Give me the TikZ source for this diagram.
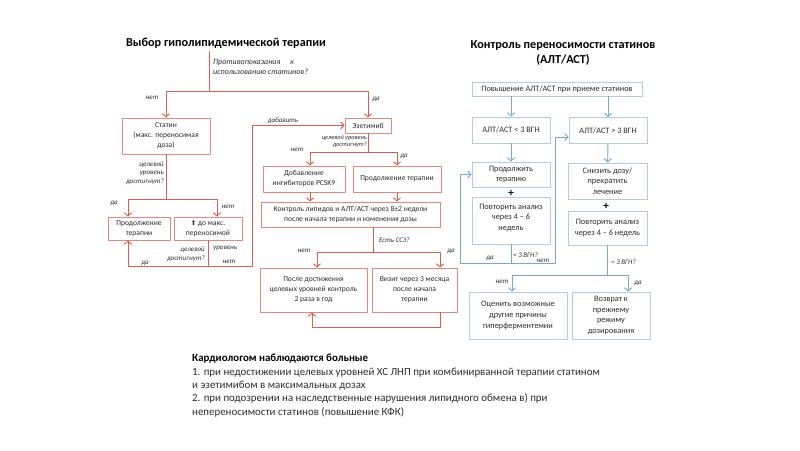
\documentclass[tikz,border=0pt]{standalone}
\usepackage{fontspec}
\setmainfont{Carlito}
\newfontfamily\symfont{DejaVu Sans}
\usetikzlibrary{arrows.meta}
\definecolor{lnred}{RGB}{216,92,80}
\definecolor{bxred}{RGB}{228,136,126}
\definecolor{lnblue}{RGB}{120,165,212}
\definecolor{bxblue}{RGB}{178,202,228}
\definecolor{txt}{RGB}{45,45,45}

\begin{document}
\begin{tikzpicture}[x=1pt,y=-1pt,line cap=round,line join=round,
  >={Straight Barb[length=3.2pt,width=7pt]},
  rbox/.style={draw=bxred,line width=0.9pt,align=center,inner sep=1pt,
    font=\fontsize{7.6}{10}\selectfont,text=txt},
  bbox/.style={draw=bxblue,line width=0.9pt,align=center,inner sep=1pt,
    font=\fontsize{8.3}{10.6}\selectfont,text=txt},
  rline/.style={draw=lnred,line width=0.95pt},
  bline/.style={draw=lnblue,line width=0.95pt},
  lbl/.style={font=\fontsize{7}{8.5}\selectfont\itshape,text=txt,inner sep=0pt},
  ttl/.style={font=\fontsize{12.2}{15}\selectfont\bfseries,align=center,text=black}]
  \useasboundingbox (0,0) rectangle (800,450);
  \fill[white] (0,0) rectangle (800,450);

  % left: choice of therapy
  \node[ttl] (titleL) at (226,43) {Выбор гиполипидемической терапии};
  \node[lbl,font=\fontsize{8}{9.5}\selectfont\itshape,align=left,anchor=west] (q) at (213,67)
    {Противопоказания\quad\ к\\использованию статинов?};
  \coordinate (j0) at (209,91);
  \node[rbox,minimum width=88pt,minimum height=36pt] (statin) at (166,136)
    {Статин\\(макс. переносимая\\доза)};
  \node[rbox,minimum width=46pt,minimum height=15pt] (eze) at (368,125.5) {Эзетимиб};
  \draw[rline] (titleL.south -| j0) -- (j0);
  \draw[rline,->] (j0) -| (statin);
  \draw[rline,->] (j0) -| (eze);
  \node[lbl] (no0) at (152,98) {нет};
  \node[lbl] (yes0) at (376,99) {да};

  \node[rbox,minimum width=62pt,minimum height=23pt] (cont1) at (139,228.5)
    {Продолжение\\терапии};
  \node[rbox,minimum width=68pt,minimum height=23pt] (upmax) at (208,228.5)
    {{\symfont\fontsize{6.5}{8}\selectfont ⬆} до макс.\\переносимой};
  \coordinate (j1) at (166,199);
  \coordinate (j1l) at (128,199);
  \coordinate (j1r) at (217,199);
  \draw[rline] (statin) -- (j1);
  \draw[rline,->] (j1) -- (j1l) -- (j1l |- cont1.north);
  \draw[rline,->] (j1) -- (j1r) -- (j1r |- upmax.north);
  \node[lbl,align=right,anchor=east] (goal1) at (164,173) {целевой\\уровень\\достигнут?};
  \node[lbl] (yes1) at (114,203) {да};
  \node[lbl] (no1) at (228,207) {нет};

  \coordinate (j2) at (208,266);
  \coordinate (j2l) at (128,266);
  \coordinate (j2r) at (252,266);
  \coordinate (addc) at (252,125.5);
  \draw[rline] (upmax) -- (j2);
  \draw[rline,->] (j2) -- (j2l) -- (j2l |- cont1.south);
  \draw[rline,->] (j2) -- (j2r) -- (addc) -- (eze);
  \node[lbl,align=right,anchor=east] (goal2) at (205,254) {целевой\\достигнут?};
  \node[lbl,anchor=west] (lev2) at (213,248) {уровень};
  \node[lbl] (no2) at (229,262) {нет};
  \node[lbl] (yes2) at (145,263) {да};
  \node[lbl] (add) at (283,121) {добавить};

  \node[rbox,minimum width=82pt,minimum height=26pt] (pcsk) at (304,179)
    {Добавление\\ингибиторов PCSK9};
  \node[rbox,minimum width=88pt,minimum height=26pt] (cont2) at (397,179)
    {Продолжение терапии};
  \coordinate (j3) at (368,152);
  \coordinate (j3l) at (310,152);
  \coordinate (j3r) at (397,152);
  \draw[rline] (eze) -- (j3);
  \draw[rline,->] (j3) -- (j3l) -- (j3l |- pcsk.north);
  \draw[rline,->] (j3) -- (j3r) -- (cont2);
  \node[lbl,align=right,anchor=north east,font=\fontsize{6.3}{7.3}\selectfont\itshape] (goal3) at (367,135)
    {целевой уровень\\достигнут?};
  \node[lbl] (no3) at (297,150) {нет};
  \node[lbl] (yes3) at (404,156) {да};

  \node[rbox,minimum width=179pt,minimum height=25pt] (control) at (350.5,214.5)
    {Контроль липидов и АЛТ/АСТ через 8±2 недели\\после начала терапии и изменения дозы};
  \draw[rline,->] (pcsk.south -| j3l) -- (j3l |- control.north);
  \draw[rline,->] (cont2) -- (cont2 |- control.north);

  \node[rbox,minimum width=107pt,minimum height=44pt] (after) at (313.5,290)
    {После достижения\\целевых уровней контроль\\2 раза в год};
  \node[rbox,minimum width=85pt,minimum height=44pt] (visit) at (414.5,290)
    {Визит через 3 месяца\\после начала\\терапии};
  \coordinate (j4) at (373,252);
  \coordinate (j4l) at (317,252);
  \coordinate (j4r) at (440,252);
  \draw[rline] (control.south -| j4) -- (j4);
  \draw[rline,->] (j4) -- (j4l) -- (j4l |- after.north);
  \draw[rline,->] (j4) -- (j4r) -- (j4r |- visit.north);
  \node[lbl,anchor=west] (cvd) at (379,240) {Есть ССЗ?};
  \node[lbl] (no4) at (304,251) {нет};
  \node[lbl] (yes4) at (451,251) {да};
  \coordinate (lp) at (440,327);
  \coordinate (lpl) at (312,327);
  \draw[rline,->] (visit.south -| lp) -- (lp) -- (lpl) -- (lpl |- after.south);

  % right: statin tolerance
  \node[ttl] (titleR) at (563,53) {Контроль переносимости статинов\\(АЛТ/АСТ)};
  \node[bbox,minimum width=170pt,minimum height=14pt] (rise) at (557,89)
    {Повышение АЛТ/АСТ при приеме статинов};
  \node[bbox,minimum width=78pt,minimum height=26pt] (lt3) at (511,130) {АЛТ/АСТ < 3 ВГН};
  \node[bbox,minimum width=78pt,minimum height=26pt] (gt3) at (608,130.5) {АЛТ/АСТ > 3 ВГН};
  \draw[bline,->] (rise.south -| lt3) -- (lt3);
  \draw[bline,->] (rise.south -| gt3) -- (gt3);

  \node[bbox,minimum width=78pt,minimum height=25pt] (cont3) at (511,174.5)
    {Продолжить\\терапию};
  \node[font=\fontsize{11}{11}\selectfont\bfseries] (plus1) at (511,193) {+};
  \node[bbox,minimum width=78pt,minimum height=47pt,text height=21pt] (rep1) at (511,220.5)
    {Повторить анализ\\через 4 – 6\\недель};
  \draw[bline,->] (lt3) -- (cont3);

  \node[bbox,minimum width=79pt,minimum height=36pt] (lower) at (607.5,181)
    {Снизить дозу/\\прекратить\\лечение};
  \node[font=\fontsize{11}{11}\selectfont\bfseries] (plus2) at (606,206.5) {+};
  \node[bbox,minimum width=79pt,minimum height=34pt] (rep2) at (607.5,228)
    {Повторить анализ\\через 4 – 6 недель};
  \draw[bline,->] (gt3) -- (lower);

  \coordinate (j5) at (511,263);
  \coordinate (j5l) at (460,263);
  \coordinate (j5r) at (555,263);
  \coordinate (j5t) at (555,137);
  \draw[bline] (rep1) -- (j5);
  \draw[bline,->] (j5) -- (j5l) |- (cont3);
  \draw[bline,->] (j5) -- (j5r) -- (j5t) -- (j5t -| gt3.west);
  \node[lbl] (yes5) at (490,258) {да};
  \node[lbl,anchor=west] (chk5) at (513,255) {< 3 ВГН?};
  \node[lbl] (no5) at (543,261) {нет};

  \node[bbox,minimum width=98pt,minimum height=47pt] (eval) at (518,315.5)
    {Оценить возможные\\другие причины\\гиперферментемии};
  \node[bbox,minimum width=78pt,minimum height=47pt] (ret) at (611,315.5)
    {Возврат к\\прежнему\\режиму\\дозирования};
  \coordinate (j6) at (607,275);
  \coordinate (j6l) at (512,275);
  \coordinate (j6r) at (628,275);
  \draw[bline] (rep2.south -| j6) -- (j6);
  \draw[bline,->] (j6) -- (j6l) -- (j6l |- eval.north);
  \draw[bline,->] (j6) -- (j6r) -- (j6r |- ret.north);
  \node[lbl,anchor=west] (chk6) at (611,262) {< 3 ВГН?};
  \node[lbl] (no6) at (502,282) {нет};
  \node[lbl] (yes6) at (638,283) {да};

  % note
  \node[anchor=north west,align=left,inner sep=0pt,text=txt,
    font=\fontsize{10.9}{13.4}\selectfont] (note) at (192,354)
    {{\bfseries\color{black}Кардиологом наблюдаются больные}\\
     1. при недостижении целевых уровней ХС ЛНП при комбинирванной терапии статином\\
     и эзетимибом в максимальных дозах\\
     2. при подозрении на наследственные нарушения липидного обмена в) при\\
     непереносимости статинов (повышение КФК)};
\end{tikzpicture}
\end{document}
